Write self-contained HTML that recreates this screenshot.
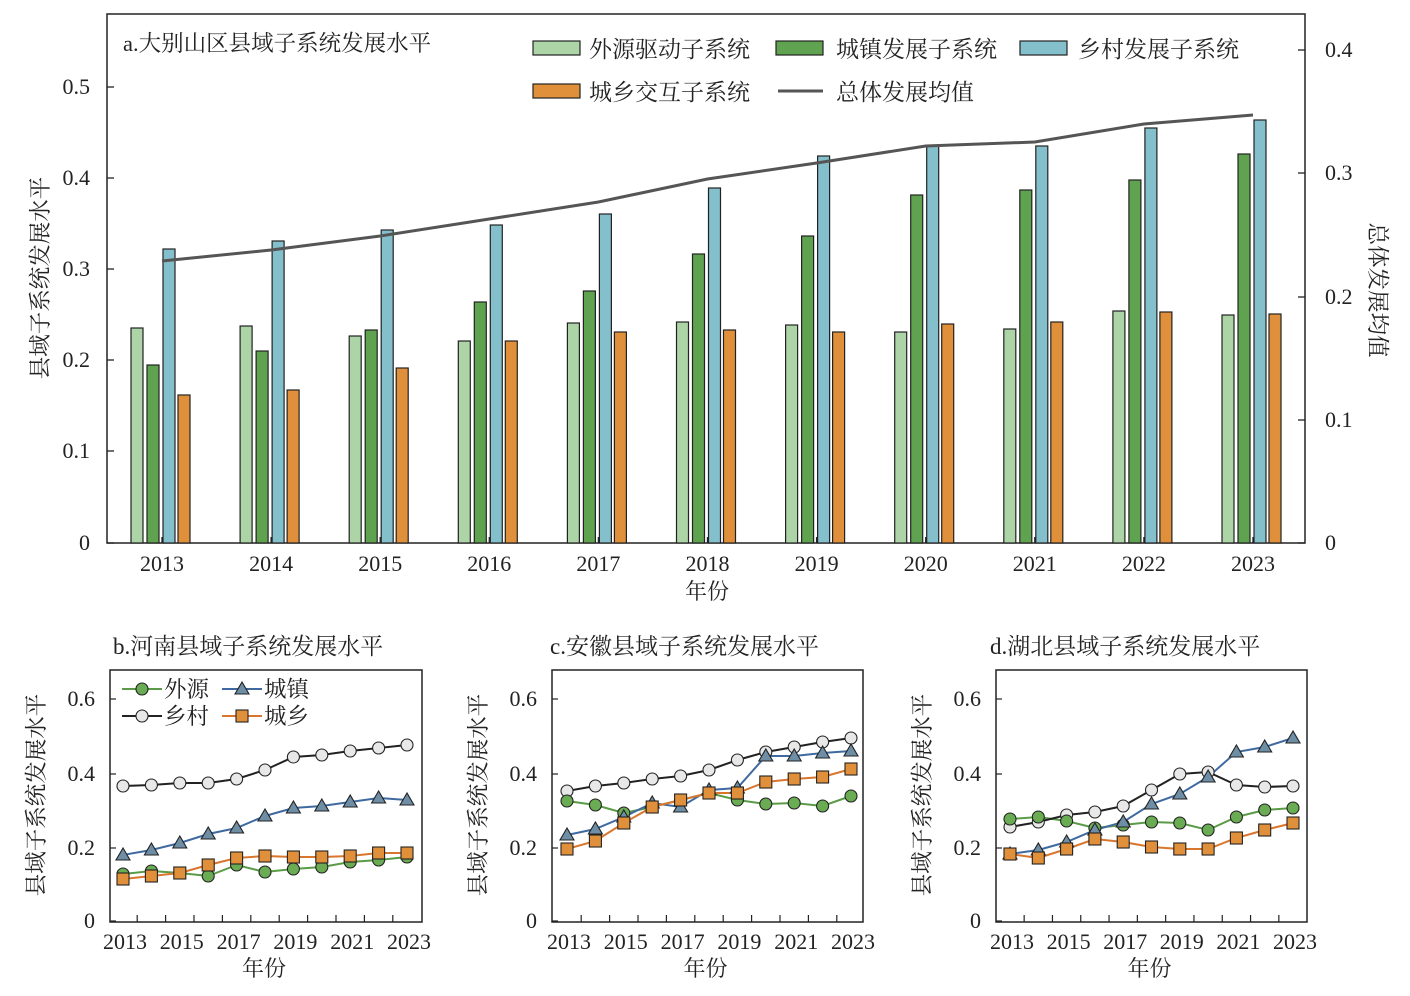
<!DOCTYPE html>
<html><head><meta charset="utf-8"><style>
html,body{margin:0;padding:0;background:#fff}
svg{display:block}
text{font-family:"Liberation Serif","Noto Serif CJK SC",serif;fill:#222}
</style></head><body>
<svg id="s" width="1410" height="996" viewBox="0 0 1410 996" xmlns="http://www.w3.org/2000/svg">
<rect width="1410" height="996" fill="#fff"/>
<g id="top"></g>
<g id="bot"></g>
</svg>
<script>
const NS="http://www.w3.org/2000/svg";
function el(p,t,a,txt){const e=document.createElementNS(NS,t);for(const k in a)e.setAttribute(k,a[k]);if(txt!==undefined)e.textContent=txt;p.appendChild(e);return e;}
const T=document.getElementById('top'),B=document.getElementById('bot');
el(T,'rect',{x:107,y:14,width:1198,height:529,fill:'none',stroke:'#222','stroke-width':1.5});
const yl=[[0,543],[0.1,451],[0.2,360],[0.3,269],[0.4,178],[0.5,87]];
yl.forEach(([v,y])=>{el(T,'line',{x1:107,x2:114,y1:y,y2:y,stroke:'#222','stroke-width':1.3});el(T,'text',{x:90,y:y+7,'font-size':22,'text-anchor':'end'},v===0?'0':v.toFixed(1));});
const yr=[[0,543],[0.1,420],[0.2,297],[0.3,173],[0.4,50]];
yr.forEach(([v,y])=>{el(T,'line',{x1:1298,x2:1305,y1:y,y2:y,stroke:'#222','stroke-width':1.3});el(T,'text',{x:1325,y:y+7,'font-size':22},v===0?'0':v.toFixed(1));});
const light=[328,326,336,341,323,322,325,332,329,311,315],
green=[365,351,330,302,291,254,236,195,190,180,154],
blue=[249,241,230,225,214,188,156,146,146,128,120],
orange=[395,390,368,341,332,330,332,324,322,312,314],
line=[261,250,236,219,202,179,163,146,142,124,115];
const cols=[['#acd4a6',light,-31],['#5fa350',green,-15],['#84bfcc',blue,1],['#e0903a',orange,16]];
let pts=[];
for(let i=0;i<11;i++){const cx=162+i*109.1;
 cols.forEach(([c,arr,o])=>el(T,'rect',{x:cx+o,y:arr[i],width:12,height:543-arr[i],fill:c,stroke:'#222','stroke-width':1.2}));
 pts.push(cx+','+line[i]);
 el(T,'line',{x1:cx,x2:cx,y1:543,y2:537,stroke:'#222','stroke-width':1.3});
 el(T,'text',{x:cx,y:571,'font-size':22,'text-anchor':'middle'},2013+i);
}
el(T,'polyline',{points:pts.join(' '),fill:'none',stroke:'#555','stroke-width':3});
el(T,'text',{x:707,y:599,'font-size':22,'text-anchor':'middle'},'年份');
el(T,'text',{x:123,y:51,'font-size':22.5},'a.大别山区县域子系统发展水平');
el(T,'text',{x:0,y:0,'font-size':22.5,'text-anchor':'middle',transform:'translate(48,278) rotate(-90)'},'县域子系统发展水平');
el(T,'text',{x:0,y:0,'font-size':22.5,'text-anchor':'middle',transform:'translate(1370,290) rotate(90)'},'总体发展均值');
[[533,41,'#acd4a6','外源驱动子系统',589],[776,41,'#5fa350','城镇发展子系统',836],[1020,41,'#84bfcc','乡村发展子系统',1078],[533,84,'#e0903a','城乡交互子系统',589]].forEach(([x,y,c,t,tx])=>{el(T,'rect',{x:x,y:y,width:47,height:14,fill:c,stroke:'#222','stroke-width':1.2});el(T,'text',{x:tx,y:y+16,'font-size':23},t);});
el(T,'line',{x1:778,x2:823,y1:91,y2:91,stroke:'#555','stroke-width':3});
el(T,'text',{x:836,y:100,'font-size':23},'总体发展均值');
const panels=[
 {L:110,R:422,x0:123,x1:407,title:'b.河南县域子系统发展水平',tx:113,
  d:[[874,871,873,876,865,872,869,867,862,860,857],[855,850,843,834,828,816,808,806,802,798,800],[786,785,783,783,779,770,757,755,751,748,745],[879,876,873,865,858,856,857,857,856,853,853]],leg:true},
 {L:552,R:863,x0:567,x1:851,title:'c.安徽县域子系统发展水平',tx:550,
  d:[[801,805,813,807,800,793,800,804,803,806,796],[835,829,817,803,807,790,788,756,756,753,751],[791,786,783,779,776,770,760,752,747,742,738],[849,841,823,807,800,793,793,782,779,777,769]]},
 {L:996,R:1307,x0:1010,x1:1293,title:'d.湖北县域子系统发展水平',tx:990,
  d:[[819,817,821,828,825,822,823,830,817,810,808],[854,850,842,830,822,804,794,777,752,747,738],[827,822,815,812,806,790,774,772,785,787,786],[854,858,849,839,842,847,849,849,838,830,823]]}];
const sty=[['#5a9b47','#6aac54','c'],['#3f6aa0','#6e8ea6','t'],['#222','#e8e8e8','o'],['#d9762e','#e0903a','s']];
function mk(g,type,x,y,f){if(type==='c'||type==='o')el(g,'circle',{cx:x,cy:y,r:6,fill:f,stroke:'#222','stroke-width':1.1});
 else if(type==='t')el(g,'polygon',{points:`${x},${y-7} ${x-7},${y+5} ${x+7},${y+5}`,fill:f,stroke:'#222','stroke-width':1.1});
 else el(g,'rect',{x:x-6,y:y-6,width:12,height:12,fill:f,stroke:'#222','stroke-width':1.1});}
panels.forEach(p=>{
 el(B,'rect',{x:p.L,y:670,width:p.R-p.L,height:252,fill:'none',stroke:'#222','stroke-width':1.5});
 el(B,'text',{x:p.tx,y:654,'font-size':23},p.title);
 [[0,921],[0.2,848],[0.4,774],[0.6,699]].forEach(([v,y])=>{el(B,'line',{x1:p.L,x2:p.L+6,y1:y,y2:y,stroke:'#222','stroke-width':1.2});el(B,'text',{x:p.L-15,y:y+7,'font-size':22,'text-anchor':'end'},v===0?'0':v.toFixed(1));});
 const st=(p.x1-p.x0)/10;
 for(let i=0;i<10;i++){const x=p.x0+i*st+st/2;el(B,'line',{x1:x,x2:x,y1:922,y2:915,stroke:'#222','stroke-width':1.2});}
 for(let i=0;i<11;i+=2){el(B,'text',{x:p.x0+i*st+2,y:949,'font-size':22,'text-anchor':'middle'},2013+i);}
 el(B,'text',{x:(p.L+p.R)/2-2,y:976,'font-size':22,'text-anchor':'middle'},'年份');
 el(B,'text',{x:0,y:0,'font-size':22.5,'text-anchor':'middle',transform:`translate(${p.L-66},795) rotate(-90)`},'县域子系统发展水平');
 p.d.forEach((arr,k)=>{const pp=arr.map((y,i)=>(p.x0+i*st)+','+y).join(' ');el(B,'polyline',{points:pp,fill:'none',stroke:sty[k][0],'stroke-width':2});});
 [2,0,1,3].forEach(k=>p.d[k].forEach((y,i)=>mk(B,sty[k][2],p.x0+i*st,y,sty[k][1])));
 if(p.leg){
  [[122,689,0,'外源'],[222,689,1,'城镇'],[122,716,2,'乡村'],[222,716,3,'城乡']].forEach(([x,y,k,t])=>{el(B,'line',{x1:x,x2:x+40,y1:y,y2:y,stroke:sty[k][0],'stroke-width':2});mk(B,sty[k][2],x+20,y,sty[k][1]);el(B,'text',{x:x+42,y:y+8,'font-size':22.5},t);});
 }
});
</script>
</body></html>
